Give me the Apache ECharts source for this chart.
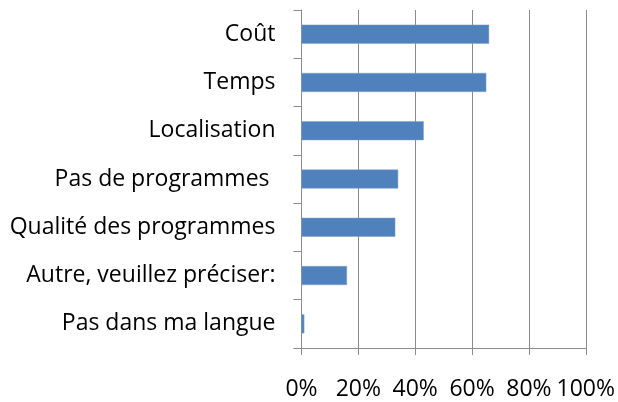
<!DOCTYPE html>
<html>
<head>
<meta charset="utf-8">
<script src="https://cdn.jsdelivr.net/npm/echarts@6/dist/echarts.min.js"></script>
<style>
  html, body { margin: 0; padding: 0; background: #fff; }
  #chart { width: 618px; height: 402px; }
</style>
</head>
<body>
<div id="chart"></div>
<script>
// categories, top to bottom
const categories = [
  'Coût',
  'Temps',
  'Localisation',
  'Pas de programmes ',
  'Qualité des programmes',
  'Autre, veuillez préciser:',
  'Pas dans ma langue'
]
// percentages
const values = [66, 65, 43, 34, 33, 16, 1]
const xTicks = [0, 20, 40, 60, 80, 100]

const font = '"Open Sans", Lato, sans-serif'
const gray = '#8c8c8c'

const chart = echarts.init(document.getElementById('chart'), null, { renderer: 'canvas' })

chart.setOption({
  animation: false,
  grid: { left: 301.5, right: 32, top: 10, bottom: 54, containLabel: false },
  xAxis: {
    type: 'value',
    min: xTicks[0],
    max: xTicks[xTicks.length - 1],
    interval: 20,
    axisLine: { show: true, lineStyle: { color: gray, width: 1 } },
    axisTick: { show: true, length: 7, lineStyle: { color: gray } },
    splitLine: { show: true, lineStyle: { color: gray, width: 1 } },
    axisLabel: {
      formatter: '{value}%',
      margin: 30,
      color: '#000',
      fontFamily: font,
      fontSize: 23
    }
  },
  yAxis: {
    type: 'category',
    inverse: true,
    data: categories,
    axisLine: { show: true, lineStyle: { color: gray, width: 1 } },
    axisTick: { show: true, length: 8, alignWithLabel: false, lineStyle: { color: gray } },
    axisLabel: {
      margin: 26,
      color: '#000',
      fontFamily: font,
      fontSize: 23
    }
  },
  series: [{
    type: 'bar',
    data: values,
    barWidth: 19,
    itemStyle: { color: '#4f81bd', borderColor: '#7da0cf', borderWidth: 0.5 }
  }]
})
</script>
</body>
</html>
